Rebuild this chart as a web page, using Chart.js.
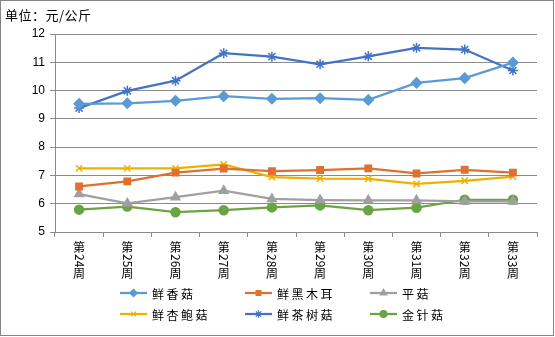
<!DOCTYPE html>
<html>
<head>
<meta charset="utf-8">
<script src="https://cdn.jsdelivr.net/npm/chart.js@4"></script>
<style>
  html, body { margin: 0; padding: 0; background: #fff; }
  #wrap { width: 555px; height: 337px; }
</style>
</head>
<body>
<div id="wrap"><canvas id="chart" width="555" height="337"></canvas></div>
<script>
const weeks = ['第24周', '第25周', '第26周', '第27周', '第28周', '第29周', '第30周', '第31周', '第32周', '第33周'];

const xiangguPrices = [9.53, 9.55, 9.64, 9.80, 9.71, 9.73, 9.67, 10.27, 10.44, 10.99];
const heimuerPrices = [6.61, 6.79, 7.10, 7.24, 7.15, 7.19, 7.25, 7.07, 7.20, 7.10];
const pingguPrices = [6.34, 6.01, 6.23, 6.46, 6.17, 6.13, 6.12, 6.12, 6.08, 6.08];
const xingbaoguPrices = [7.25, 7.25, 7.25, 7.39, 6.94, 6.89, 6.88, 6.70, 6.81, 6.96];
const chashuguPrices = [9.38, 9.99, 10.35, 11.32, 11.20, 10.93, 11.21, 11.51, 11.45, 10.71];
const jinzhenguPrices = [5.79, 5.90, 5.70, 5.77, 5.87, 5.94, 5.77, 5.86, 6.14, 6.14];

const yMin = 5;
const yMax = 12;
const unitLabel = '单位：元/公斤';

const FONT = '"Noto Sans CJK SC", "Noto Sans", sans-serif';
const GRID = '#8a8a8a';

function series(label, data, color, pointStyle, radius) {
  return {
    label: label,
    data: data,
    borderColor: color,
    backgroundColor: color,
    pointBackgroundColor: color,
    pointBorderColor: color,
    pointStyle: pointStyle,
    pointRadius: radius,
    pointBorderWidth: 1.5,
    borderWidth: 2.25,
    tension: 0
  };
}

const datasets = [
  series('鲜香菇', xiangguPrices, '#5B9BD5', 'rectRot', 5),
  series('鲜黑木耳', heimuerPrices, '#E07030', 'rect', 4.5),
  series('平菇', pingguPrices, '#A0A0A0', 'triangle', 5),
  series('鲜杏鲍菇', xingbaoguPrices, '#EDB200', 'crossRot', 4.5),
  series('鲜茶树菇', chashuguPrices, '#4472C4', 'star', 5),
  series('金针菇', jinzhenguPrices, '#6AA443', 'circle', 4.5)
];

// vertical week labels: CJK upright, digits turned clockwise
const weekLabels = {
  id: 'weekLabels',
  afterDraw(chart) {
    const ctx = chart.ctx;
    const xs = chart.scales.x;
    ctx.save();
    ctx.fillStyle = '#000';
    ctx.font = '12px ' + FONT;
    ctx.textBaseline = 'middle';
    ctx.textAlign = 'center';
    weeks.forEach((w, i) => {
      const x = xs.getPixelForValue(i);
      let y = 241;
      for (const ch of w) {
        if (/[0-9]/.test(ch)) {
          const cw = ctx.measureText(ch).width;
          ctx.save();
          ctx.translate(x, y + cw / 2);
          ctx.rotate(Math.PI / 2);
          ctx.fillText(ch, 0, 0);
          ctx.restore();
          y += cw;
        } else {
          ctx.fillText(ch, x, y + 6.5);
          y += 13;
        }
      }
    });
    ctx.restore();
  }
};

// legend in a 3-column grid, line sample + marker
const filledStyles = ['rectRot', 'rect', 'triangle', 'circle'];
const gridLegend = {
  id: 'gridLegend',
  afterDraw(chart) {
    const ctx = chart.ctx;
    const cols = [120, 245, 370];
    const rows = [293, 314];
    ctx.save();
    chart.data.datasets.forEach((ds, i) => {
      const x = cols[i % 3];
      const y = rows[Math.floor(i / 3)];
      ctx.strokeStyle = ds.borderColor;
      ctx.lineWidth = 2.25;
      ctx.beginPath();
      ctx.moveTo(x, y);
      ctx.lineTo(x + 27, y);
      ctx.stroke();
      ctx.fillStyle = ds.borderColor;
      ctx.lineWidth = 1.2;
      Chart.helpers.drawPoint(ctx, {
        pointStyle: ds.pointStyle,
        radius: ds.pointRadius * 0.75,
        borderWidth: 1.2,
        rotation: 0
      }, x + 13.5, y);
      ctx.fillStyle = '#000';
      ctx.font = '12px ' + FONT;
      ctx.letterSpacing = '2.5px';
      ctx.textBaseline = 'middle';
      ctx.textAlign = 'left';
      ctx.fillText(ds.label, x + 32, y + 1);
    });
    ctx.restore();
  }
};

const frame = {
  id: 'frame',
  afterDraw(chart) {
    const ctx = chart.ctx;
    ctx.save();
    ctx.fillStyle = '#000';
    ctx.font = '13px ' + FONT;
    ctx.textBaseline = 'middle';
    ctx.letterSpacing = '0.5px';
    ctx.fillText(unitLabel, 5, 15);
    ctx.strokeStyle = '#868686';
    ctx.lineWidth = 1;
    ctx.strokeRect(0.5, 0.5, 553, 335);
    ctx.restore();
  }
};

new Chart(document.getElementById('chart'), {
  type: 'line',
  data: { labels: weeks, datasets: datasets },
  options: {
    responsive: false,
    animation: false,
    layout: { padding: { top: 34, right: 18, left: 0, bottom: 0 } },
    plugins: {
      legend: { display: false },
      tooltip: { enabled: false }
    },
    scales: {
      x: {
        offset: true,
        grid: {
          offset: true,
          drawOnChartArea: false,
          drawTicks: true,
          tickLength: 5,
          color: GRID
        },
        border: { color: GRID },
        ticks: { display: false },
        afterFit(scale) { scale.height = 105; }
      },
      y: {
        min: yMin,
        max: yMax,
        ticks: {
          stepSize: 1,
          color: '#000',
          padding: 5,
          font: { size: 12, family: '"Liberation Sans", Arial, sans-serif' }
        },
        grid: { color: GRID, tickLength: 5 },
        border: { color: GRID },
        afterFit(scale) { scale.width = 55; }
      }
    }
  },
  plugins: [weekLabels, gridLegend, frame]
});
</script>
</body>
</html>
